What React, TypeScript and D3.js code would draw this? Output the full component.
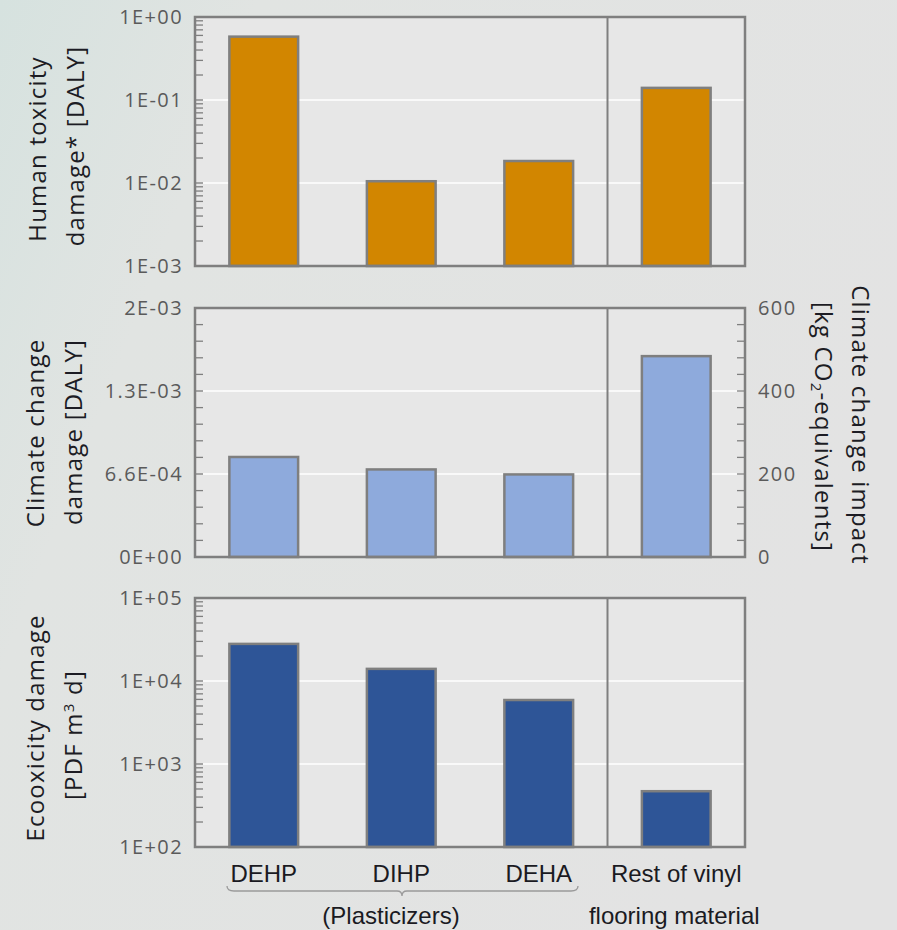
import React from "react";
import * as d3 from "d3";

const categories = ["DEHP", "DIHP", "DEHA", "Rest of vinyl"];
const humanToxicity = [0.58, 0.0105, 0.0184, 0.14];
const climateImpactKg = [241, 211, 199, 484];
const ecotoxicity = [28000, 14000, 5900, 470];

const htTicks = [1e-3, 1e-2, 1e-1, 1];
const htTickLabels = ["1E-03", "1E-02", "1E-01", "1E+00"];
const ccDalyTicks = [0, 0.000667, 0.001333, 0.002];
const ccDalyTickLabels = ["0E+00", "6.6E-04", "1.3E-03", "2E-03"];
const ccKgTicks = [0, 200, 400, 600];
const ecoTicks = [1e2, 1e3, 1e4, 1e5];
const ecoTickLabels = ["1E+02", "1E+03", "1E+04", "1E+05"];

const W = 897;
const H = 930;
const left = 195;
const right = 745;
const panelH = 249;
const panelTops = [17, 308, 598];

const frameColor = "#7f7f7f";
const plotBg = "#e7e7e7";
const tickColor = "#5a5a5a";
const titleColor = "#1c1c24";
const font = "'Open Sans', sans-serif";

function logMinor(domain: [number, number]) {
  const out: number[] = [];
  for (let e = Math.log10(domain[0]); e < Math.log10(domain[1]); e++) {
    for (let m = 2; m <= 9; m++) out.push(m * Math.pow(10, e));
  }
  return out;
}

export default function App() {
  const x = d3
    .scaleBand<string>()
    .domain(categories)
    .range([left, right])
    .paddingInner(0.5)
    .paddingOuter(0.25);
  const bw = x.bandwidth();
  const step = x.step();
  const dividerX = (x("DEHA") as number) + bw + (step - bw) / 2;

  const y1 = d3.scaleLog().domain([1e-3, 1]).range([panelTops[0] + panelH, panelTops[0]]);
  const y2 = d3.scaleLinear().domain([0, 600]).range([panelTops[1] + panelH, panelTops[1]]);
  const y2d = d3.scaleLinear().domain([0, 0.002]).range([panelTops[1] + panelH, panelTops[1]]);
  const y3 = d3.scaleLog().domain([1e2, 1e5]).range([panelTops[2] + panelH, panelTops[2]]);

  const frame = (top: number) => (
    <rect x={left} y={top} width={right - left} height={panelH} fill={plotBg} />
  );
  const frameBorder = (top: number) => (
    <g>
      <rect x={left} y={top} width={right - left} height={panelH} fill="none" stroke={frameColor} strokeWidth={2.5} />
      <line x1={dividerX} x2={dividerX} y1={top} y2={top + panelH} stroke={frameColor} strokeWidth={2} />
    </g>
  );

  const grid = (ys: number[]) =>
    ys.map((yy, i) => (
      <line key={i} x1={left + 8} x2={right} y1={yy} y2={yy} stroke="#ffffff" strokeWidth={1.5} />
    ));

  const leftTicks = (ys: number[], len = 8) =>
    ys.map((yy, i) => (
      <line key={i} x1={left} x2={left + len} y1={yy} y2={yy} stroke={frameColor} strokeWidth={1.3} />
    ));
  const rightTicks = (ys: number[], len = 8) =>
    ys.map((yy, i) => (
      <line key={i} x1={right} x2={right - len} y1={yy} y2={yy} stroke={frameColor} strokeWidth={1.3} />
    ));

  const leftLabels = (ys: number[], labels: string[]) =>
    ys.map((yy, i) => (
      <text key={i} x={183} y={yy} dy="0.36em" textAnchor="end" fontSize={20} fill={tickColor} fontFamily={font} letterSpacing={1.4}>
        {labels[i]}
      </text>
    ));

  const bars = (vals: number[], yScale: any, base: number, color: string) =>
    vals.map((v, i) => (
      <rect
        key={i}
        x={x(categories[i])}
        y={yScale(v)}
        width={bw}
        height={base - yScale(v)}
        fill={color}
        stroke={frameColor}
        strokeWidth={2.5}
      />
    ));

  const ccMinor = d3.range(0, 601, 40);

  const titleLines = (bx1: number, bx2: number, cy1: number, cy2: number, l1: React.ReactNode, l2: React.ReactNode, rot = -90, ls = 1.2) => (
    <g>
      <text transform={`translate(${bx1},${cy1}) rotate(${rot})`} textAnchor="middle" fontSize={24} fill={titleColor} fontFamily={font} letterSpacing={ls}>
        {l1}
      </text>
      <text transform={`translate(${bx2},${cy2}) rotate(${rot})`} textAnchor="middle" fontSize={24} fill={titleColor} fontFamily={font} letterSpacing={ls}>
        {l2}
      </text>
    </g>
  );

  const catFont = "'Liberation Sans', Arial, sans-serif";
  const bx0 = 227;
  const bx1 = 578;
  const bmid = 402;
  const by = 891;

  return (
    <svg width={W} height={H} style={{ display: "block", position: "absolute", left: 0, top: 0 }}>
      <defs>
        <linearGradient id="bg" x1="0" x2="1" y1="0" y2="0.4">
          <stop offset="0" stopColor="#d6e2df" />
          <stop offset="0.25" stopColor="#e1e4e2" />
          <stop offset="1" stopColor="#e3e3e3" />
        </linearGradient>
      </defs>
      <rect x={0} y={0} width={W} height={H} fill="url(#bg)" />

      {/* Panel 1 */}
      {frame(panelTops[0])}
      {grid([y1(1e-2), y1(1e-1)])}
      {leftTicks(logMinor([1e-3, 1]).map((v) => y1(v)), 8)}
      {leftTicks(htTicks.map((v) => y1(v)), 8)}
      {bars(humanToxicity, y1, panelTops[0] + panelH, "#d28600")}
      {frameBorder(panelTops[0])}
      {leftLabels(htTicks.map((v) => y1(v)), htTickLabels)}
      {titleLines(46, 84, 149, 146, "Human toxicity", "damage* [DALY]")}

      {/* Panel 2 */}
      {frame(panelTops[1])}
      {grid([y2(200), y2(400)])}
      {leftTicks(ccMinor.map((v) => y2(v)), 8)}
      {rightTicks(ccMinor.map((v) => y2(v)), 8)}
      {bars(climateImpactKg, y2, panelTops[1] + panelH, "#8eaadc")}
      {frameBorder(panelTops[1])}
      {leftLabels(ccDalyTicks.map((v) => y2d(v)), ccDalyTickLabels)}
      {ccKgTicks.map((v, i) => (
        <text key={i} x={758} y={y2(v)} dy="0.36em" textAnchor="start" fontSize={20} fill={tickColor} fontFamily={font} letterSpacing={1.4}>
          {v}
        </text>
      ))}
      {titleLines(44, 82, 433, 432, "Climate change", "damage [DALY]")}
      {titleLines(
        852,
        815,
        425,
        427,
        "Climate change impact",
        <>
          [kg CO<tspan fontSize={15} dy="4">2</tspan>
          <tspan dy="-4">-equivalents]</tspan>
        </>,
        90,
        1.2
      )}

      {/* Panel 3 */}
      {frame(panelTops[2])}
      {grid([y3(1e3), y3(1e4)])}
      {leftTicks(logMinor([1e2, 1e5]).map((v) => y3(v)), 8)}
      {leftTicks(ecoTicks.map((v) => y3(v)), 8)}
      {bars(ecotoxicity, y3, panelTops[2] + panelH, "#2e5597")}
      {frameBorder(panelTops[2])}
      {leftLabels(ecoTicks.map((v) => y3(v)), ecoTickLabels)}
      {titleLines(44, 82, 728, 735, "Ecooxicity damage", <>[PDF m<tspan fontSize={15} dy="-8">3</tspan><tspan dy="8"> d]</tspan></>)}

      {/* Category labels */}
      {categories.map((c) => (
        <text key={c} x={(x(c) as number) + bw / 2} y={882} textAnchor="middle" fontSize={24} fill="#1a1a22" fontFamily={catFont}>
          {c}
        </text>
      ))}
      <text x={(x("Rest of vinyl") as number) + bw / 2 - 2} y={924} textAnchor="middle" fontSize={24} fill="#1a1a22" fontFamily={catFont}>
        flooring material
      </text>
      <text x={391} y={924} textAnchor="middle" fontSize={24} fill="#1a1a22" fontFamily={catFont}>
        (Plasticizers)
      </text>
      <path
        d={`M${bx0},${by - 5} Q${bx0},${by} ${bx0 + 7},${by} L${bmid - 5},${by} Q${bmid},${by} ${bmid},${by + 5} Q${bmid},${by} ${bmid + 5},${by} L${bx1 - 7},${by} Q${bx1},${by} ${bx1},${by - 5}`}
        fill="none"
        stroke="#9a9a9a"
        strokeWidth={1.3}
      />
    </svg>
  );
}
